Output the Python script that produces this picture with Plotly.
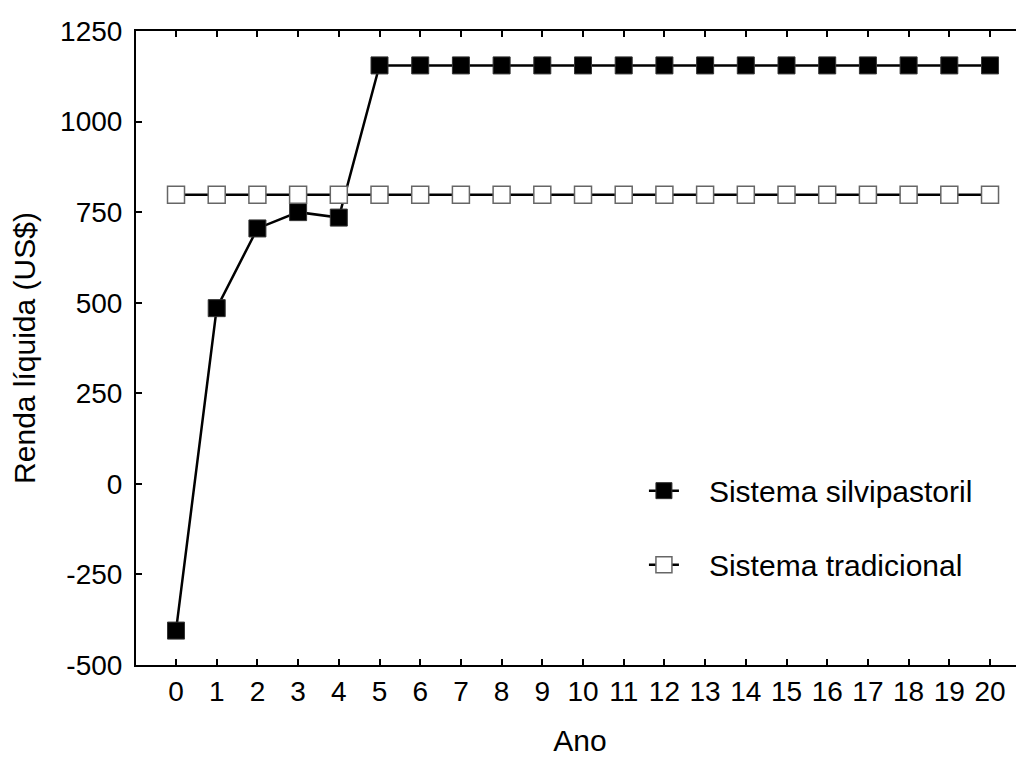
import plotly.graph_objects as go

anos = list(range(0, 21))
silvipastoril = [-405, 485, 705, 750, 735] + [1155] * 16
tradicional = [798] * 21
y_ticks = [-500, -250, 0, 250, 500, 750, 1000, 1250]

FONT = "Liberation Sans, Arial, sans-serif"
PAD = "\u00a0\u00a0\u00a0"

fig = go.Figure()
fig.add_trace(go.Scatter(
    x=anos, y=silvipastoril, mode="lines+markers", name=PAD + "Sistema silvipastoril",
    line=dict(color="black", width=2.5),
    marker=dict(symbol="square", size=17, color="black", line=dict(color="#333333", width=1)),
    legendgroup="a",
))
fig.add_trace(go.Scatter(
    x=anos, y=tradicional, mode="lines+markers", name=PAD + "Sistema tradicional",
    line=dict(color="black", width=2.5),
    marker=dict(symbol="square", size=17, color="white", line=dict(color="#666666", width=1.5)),
    legendgroup="b",
))

fig.update_layout(
    width=1024, height=761,
    margin=dict(l=128, r=8, t=20, b=104),
    paper_bgcolor="white", plot_bgcolor="white",
    font=dict(family=FONT, size=28, color="black"),
    showlegend=True,
    legend=dict(x=0.572, y=0.316, xanchor="left", yanchor="top",
                font=dict(size=30, family=FONT), tracegroupgap=32,
                bgcolor="rgba(0,0,0,0)", itemwidth=30),
    xaxis=dict(
        range=[-0.983, 20.835], tickmode="array", tickvals=anos,
        ticktext=[str(a) for a in anos],
        showline=True, linecolor="black", linewidth=2, mirror="ticks",
        ticks="inside", ticklen=6, tickwidth=2, tickcolor="black",
        showgrid=False, zeroline=False,
        title=dict(text="Ano", font=dict(size=30), standoff=24),
        tickfont=dict(size=28), ticklabelstandoff=0,
    ),
    yaxis=dict(
        range=[-500, 1250], tickmode="array", tickvals=y_ticks,
        ticktext=[str(v) for v in y_ticks],
        showline=True, linecolor="black", linewidth=2,
        ticks="inside", ticklen=6, tickwidth=2, tickcolor="black",
        showgrid=False, zeroline=False,
        title=dict(text="Renda líquida (US$)", font=dict(size=30), standoff=17),
        tickfont=dict(size=28), ticklabelstandoff=6,
    ),
)

fig.write_html("out.html")
